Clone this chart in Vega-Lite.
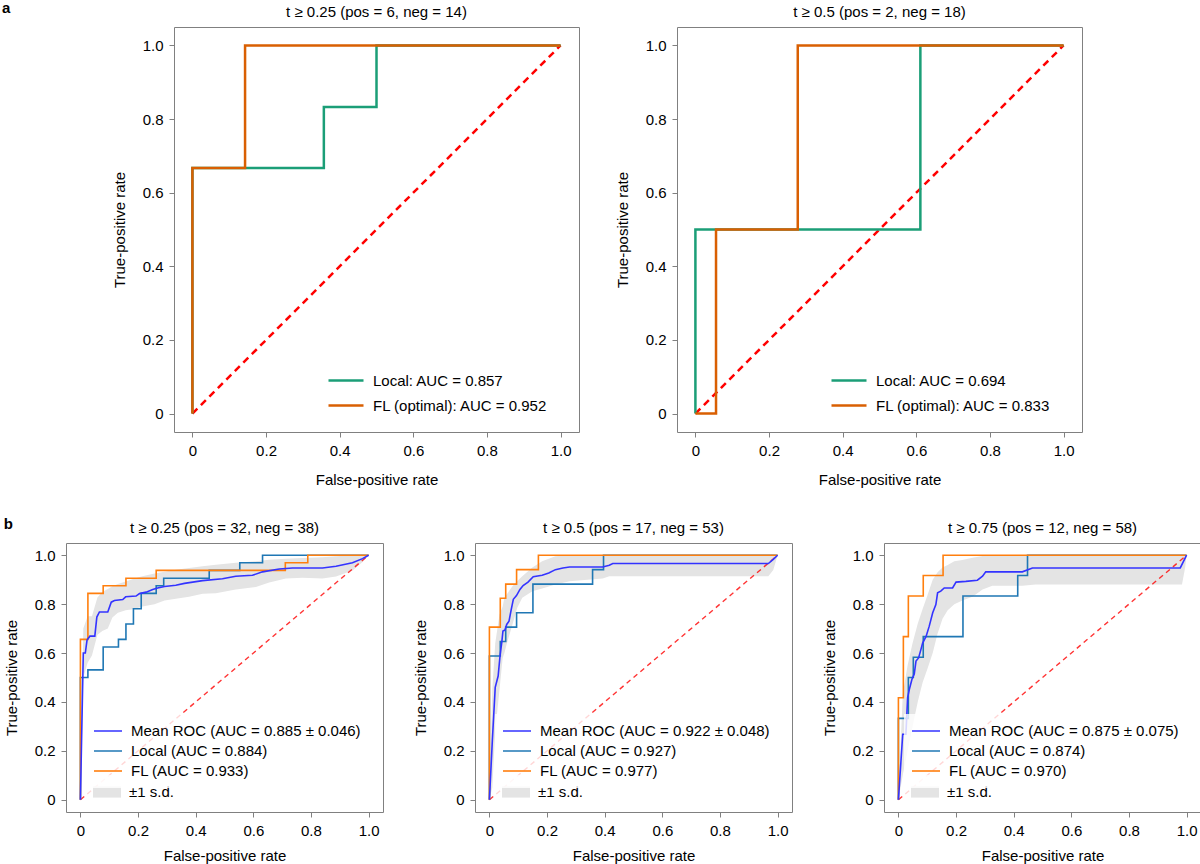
{
  "$schema": "https://vega.github.io/schema/vega-lite/v6.json",
  "padding": {"left": 2, "top": 0, "right": 0, "bottom": 0},
  "datasets": {
    "diag": [{"fpr": 0, "tpr": 0}, {"fpr": 1, "tpr": 1}],
    "a1_roc": [
      {"series": "Local: AUC = 0.857", "fpr": 0, "tpr": 0},
      {"series": "Local: AUC = 0.857", "fpr": 0, "tpr": 0.667},
      {"series": "Local: AUC = 0.857", "fpr": 0.357, "tpr": 0.667},
      {"series": "Local: AUC = 0.857", "fpr": 0.357, "tpr": 0.833},
      {"series": "Local: AUC = 0.857", "fpr": 0.5, "tpr": 0.833},
      {"series": "Local: AUC = 0.857", "fpr": 0.5, "tpr": 1},
      {"series": "Local: AUC = 0.857", "fpr": 1, "tpr": 1},
      {"series": "FL (optimal): AUC = 0.952", "fpr": 0, "tpr": 0},
      {"series": "FL (optimal): AUC = 0.952", "fpr": 0, "tpr": 0.667},
      {"series": "FL (optimal): AUC = 0.952", "fpr": 0.143, "tpr": 0.667},
      {"series": "FL (optimal): AUC = 0.952", "fpr": 0.143, "tpr": 1},
      {"series": "FL (optimal): AUC = 0.952", "fpr": 1, "tpr": 1}
    ],
    "a2_roc": [
      {"series": "Local: AUC = 0.694", "fpr": 0, "tpr": 0},
      {"series": "Local: AUC = 0.694", "fpr": 0, "tpr": 0.5},
      {"series": "Local: AUC = 0.694", "fpr": 0.611, "tpr": 0.5},
      {"series": "Local: AUC = 0.694", "fpr": 0.611, "tpr": 1},
      {"series": "Local: AUC = 0.694", "fpr": 1, "tpr": 1},
      {"series": "FL (optimal): AUC = 0.833", "fpr": 0, "tpr": 0},
      {"series": "FL (optimal): AUC = 0.833", "fpr": 0.056, "tpr": 0},
      {"series": "FL (optimal): AUC = 0.833", "fpr": 0.056, "tpr": 0.5},
      {"series": "FL (optimal): AUC = 0.833", "fpr": 0.278, "tpr": 0.5},
      {"series": "FL (optimal): AUC = 0.833", "fpr": 0.278, "tpr": 1},
      {"series": "FL (optimal): AUC = 0.833", "fpr": 1, "tpr": 1}
    ],
    "b1_roc": [
      {"series": "Local (AUC = 0.884)", "fpr": 0, "tpr": 0},
      {"series": "Local (AUC = 0.884)", "fpr": 0, "tpr": 0.5},
      {"series": "Local (AUC = 0.884)", "fpr": 0.026, "tpr": 0.5},
      {"series": "Local (AUC = 0.884)", "fpr": 0.026, "tpr": 0.531},
      {"series": "Local (AUC = 0.884)", "fpr": 0.079, "tpr": 0.531},
      {"series": "Local (AUC = 0.884)", "fpr": 0.079, "tpr": 0.625},
      {"series": "Local (AUC = 0.884)", "fpr": 0.132, "tpr": 0.625},
      {"series": "Local (AUC = 0.884)", "fpr": 0.132, "tpr": 0.656},
      {"series": "Local (AUC = 0.884)", "fpr": 0.158, "tpr": 0.656},
      {"series": "Local (AUC = 0.884)", "fpr": 0.158, "tpr": 0.719},
      {"series": "Local (AUC = 0.884)", "fpr": 0.184, "tpr": 0.719},
      {"series": "Local (AUC = 0.884)", "fpr": 0.184, "tpr": 0.781},
      {"series": "Local (AUC = 0.884)", "fpr": 0.211, "tpr": 0.781},
      {"series": "Local (AUC = 0.884)", "fpr": 0.211, "tpr": 0.844},
      {"series": "Local (AUC = 0.884)", "fpr": 0.263, "tpr": 0.844},
      {"series": "Local (AUC = 0.884)", "fpr": 0.263, "tpr": 0.875},
      {"series": "Local (AUC = 0.884)", "fpr": 0.289, "tpr": 0.875},
      {"series": "Local (AUC = 0.884)", "fpr": 0.289, "tpr": 0.906},
      {"series": "Local (AUC = 0.884)", "fpr": 0.447, "tpr": 0.906},
      {"series": "Local (AUC = 0.884)", "fpr": 0.447, "tpr": 0.938},
      {"series": "Local (AUC = 0.884)", "fpr": 0.553, "tpr": 0.938},
      {"series": "Local (AUC = 0.884)", "fpr": 0.553, "tpr": 0.969},
      {"series": "Local (AUC = 0.884)", "fpr": 0.632, "tpr": 0.969},
      {"series": "Local (AUC = 0.884)", "fpr": 0.632, "tpr": 1},
      {"series": "Local (AUC = 0.884)", "fpr": 1, "tpr": 1},
      {"series": "FL (AUC = 0.933)", "fpr": 0, "tpr": 0},
      {"series": "FL (AUC = 0.933)", "fpr": 0, "tpr": 0.656},
      {"series": "FL (AUC = 0.933)", "fpr": 0.026, "tpr": 0.656},
      {"series": "FL (AUC = 0.933)", "fpr": 0.026, "tpr": 0.844},
      {"series": "FL (AUC = 0.933)", "fpr": 0.079, "tpr": 0.844},
      {"series": "FL (AUC = 0.933)", "fpr": 0.079, "tpr": 0.875},
      {"series": "FL (AUC = 0.933)", "fpr": 0.158, "tpr": 0.875},
      {"series": "FL (AUC = 0.933)", "fpr": 0.158, "tpr": 0.906},
      {"series": "FL (AUC = 0.933)", "fpr": 0.263, "tpr": 0.906},
      {"series": "FL (AUC = 0.933)", "fpr": 0.263, "tpr": 0.938},
      {"series": "FL (AUC = 0.933)", "fpr": 0.711, "tpr": 0.938},
      {"series": "FL (AUC = 0.933)", "fpr": 0.711, "tpr": 0.969},
      {"series": "FL (AUC = 0.933)", "fpr": 0.789, "tpr": 0.969},
      {"series": "FL (AUC = 0.933)", "fpr": 0.789, "tpr": 1},
      {"series": "FL (AUC = 0.933)", "fpr": 1, "tpr": 1},
      {"series": "Mean ROC (AUC = 0.885 ± 0.046)", "fpr": 0, "tpr": 0},
      {"series": "Mean ROC (AUC = 0.885 ± 0.046)", "fpr": 0.01, "tpr": 0.6},
      {"series": "Mean ROC (AUC = 0.885 ± 0.046)", "fpr": 0.017, "tpr": 0.6},
      {"series": "Mean ROC (AUC = 0.885 ± 0.046)", "fpr": 0.023, "tpr": 0.653},
      {"series": "Mean ROC (AUC = 0.885 ± 0.046)", "fpr": 0.033, "tpr": 0.669},
      {"series": "Mean ROC (AUC = 0.885 ± 0.046)", "fpr": 0.05, "tpr": 0.669},
      {"series": "Mean ROC (AUC = 0.885 ± 0.046)", "fpr": 0.057, "tpr": 0.747},
      {"series": "Mean ROC (AUC = 0.885 ± 0.046)", "fpr": 0.066, "tpr": 0.768},
      {"series": "Mean ROC (AUC = 0.885 ± 0.046)", "fpr": 0.095, "tpr": 0.768},
      {"series": "Mean ROC (AUC = 0.885 ± 0.046)", "fpr": 0.107, "tpr": 0.808},
      {"series": "Mean ROC (AUC = 0.885 ± 0.046)", "fpr": 0.118, "tpr": 0.815},
      {"series": "Mean ROC (AUC = 0.885 ± 0.046)", "fpr": 0.147, "tpr": 0.819},
      {"series": "Mean ROC (AUC = 0.885 ± 0.046)", "fpr": 0.157, "tpr": 0.83},
      {"series": "Mean ROC (AUC = 0.885 ± 0.046)", "fpr": 0.193, "tpr": 0.833},
      {"series": "Mean ROC (AUC = 0.885 ± 0.046)", "fpr": 0.205, "tpr": 0.843},
      {"series": "Mean ROC (AUC = 0.885 ± 0.046)", "fpr": 0.228, "tpr": 0.849},
      {"series": "Mean ROC (AUC = 0.885 ± 0.046)", "fpr": 0.251, "tpr": 0.86},
      {"series": "Mean ROC (AUC = 0.885 ± 0.046)", "fpr": 0.268, "tpr": 0.866},
      {"series": "Mean ROC (AUC = 0.885 ± 0.046)", "fpr": 0.292, "tpr": 0.872},
      {"series": "Mean ROC (AUC = 0.885 ± 0.046)", "fpr": 0.331, "tpr": 0.877},
      {"series": "Mean ROC (AUC = 0.885 ± 0.046)", "fpr": 0.361, "tpr": 0.885},
      {"series": "Mean ROC (AUC = 0.885 ± 0.046)", "fpr": 0.424, "tpr": 0.896},
      {"series": "Mean ROC (AUC = 0.885 ± 0.046)", "fpr": 0.493, "tpr": 0.904},
      {"series": "Mean ROC (AUC = 0.885 ± 0.046)", "fpr": 0.539, "tpr": 0.914},
      {"series": "Mean ROC (AUC = 0.885 ± 0.046)", "fpr": 0.597, "tpr": 0.918},
      {"series": "Mean ROC (AUC = 0.885 ± 0.046)", "fpr": 0.632, "tpr": 0.932},
      {"series": "Mean ROC (AUC = 0.885 ± 0.046)", "fpr": 0.69, "tpr": 0.944},
      {"series": "Mean ROC (AUC = 0.885 ± 0.046)", "fpr": 0.736, "tpr": 0.948},
      {"series": "Mean ROC (AUC = 0.885 ± 0.046)", "fpr": 0.84, "tpr": 0.948},
      {"series": "Mean ROC (AUC = 0.885 ± 0.046)", "fpr": 0.887, "tpr": 0.955},
      {"series": "Mean ROC (AUC = 0.885 ± 0.046)", "fpr": 0.944, "tpr": 0.969},
      {"series": "Mean ROC (AUC = 0.885 ± 0.046)", "fpr": 0.979, "tpr": 0.986},
      {"series": "Mean ROC (AUC = 0.885 ± 0.046)", "fpr": 1, "tpr": 1}
    ],
    "b1_band": [
      {"fpr": 0, "lower": 0, "upper": 0},
      {"fpr": 0.01, "lower": 0.5, "upper": 0.7},
      {"fpr": 0.025, "lower": 0.56, "upper": 0.75},
      {"fpr": 0.04, "lower": 0.59, "upper": 0.75},
      {"fpr": 0.059, "lower": 0.675, "upper": 0.827},
      {"fpr": 0.076, "lower": 0.69, "upper": 0.85},
      {"fpr": 0.095, "lower": 0.7, "upper": 0.862},
      {"fpr": 0.111, "lower": 0.745, "upper": 0.873},
      {"fpr": 0.13, "lower": 0.765, "upper": 0.882},
      {"fpr": 0.157, "lower": 0.775, "upper": 0.893},
      {"fpr": 0.188, "lower": 0.78, "upper": 0.905},
      {"fpr": 0.215, "lower": 0.79, "upper": 0.914},
      {"fpr": 0.257, "lower": 0.8, "upper": 0.925},
      {"fpr": 0.292, "lower": 0.815, "upper": 0.932},
      {"fpr": 0.331, "lower": 0.822, "upper": 0.941},
      {"fpr": 0.377, "lower": 0.83, "upper": 0.948},
      {"fpr": 0.424, "lower": 0.842, "upper": 0.955},
      {"fpr": 0.47, "lower": 0.845, "upper": 0.961},
      {"fpr": 0.539, "lower": 0.86, "upper": 0.969},
      {"fpr": 0.609, "lower": 0.87, "upper": 0.975},
      {"fpr": 0.655, "lower": 0.888, "upper": 0.982},
      {"fpr": 0.713, "lower": 0.905, "upper": 0.986},
      {"fpr": 0.771, "lower": 0.908, "upper": 0.989},
      {"fpr": 0.84, "lower": 0.905, "upper": 0.992},
      {"fpr": 0.887, "lower": 0.913, "upper": 0.996},
      {"fpr": 0.944, "lower": 0.938, "upper": 1},
      {"fpr": 0.979, "lower": 0.972, "upper": 1},
      {"fpr": 1, "lower": 1, "upper": 1}
    ],
    "b2_roc": [
      {"series": "Local (AUC = 0.927)", "fpr": 0, "tpr": 0},
      {"series": "Local (AUC = 0.927)", "fpr": 0, "tpr": 0.588},
      {"series": "Local (AUC = 0.927)", "fpr": 0.0377, "tpr": 0.588},
      {"series": "Local (AUC = 0.927)", "fpr": 0.0377, "tpr": 0.647},
      {"series": "Local (AUC = 0.927)", "fpr": 0.0566, "tpr": 0.647},
      {"series": "Local (AUC = 0.927)", "fpr": 0.0566, "tpr": 0.706},
      {"series": "Local (AUC = 0.927)", "fpr": 0.0943, "tpr": 0.706},
      {"series": "Local (AUC = 0.927)", "fpr": 0.0943, "tpr": 0.765},
      {"series": "Local (AUC = 0.927)", "fpr": 0.151, "tpr": 0.765},
      {"series": "Local (AUC = 0.927)", "fpr": 0.151, "tpr": 0.882},
      {"series": "Local (AUC = 0.927)", "fpr": 0.358, "tpr": 0.882},
      {"series": "Local (AUC = 0.927)", "fpr": 0.358, "tpr": 0.941},
      {"series": "Local (AUC = 0.927)", "fpr": 0.396, "tpr": 0.941},
      {"series": "Local (AUC = 0.927)", "fpr": 0.396, "tpr": 1},
      {"series": "Local (AUC = 0.927)", "fpr": 1, "tpr": 1},
      {"series": "FL (AUC = 0.977)", "fpr": 0, "tpr": 0},
      {"series": "FL (AUC = 0.977)", "fpr": 0, "tpr": 0.706},
      {"series": "FL (AUC = 0.977)", "fpr": 0.0377, "tpr": 0.706},
      {"series": "FL (AUC = 0.977)", "fpr": 0.0377, "tpr": 0.824},
      {"series": "FL (AUC = 0.977)", "fpr": 0.0566, "tpr": 0.824},
      {"series": "FL (AUC = 0.977)", "fpr": 0.0566, "tpr": 0.882},
      {"series": "FL (AUC = 0.977)", "fpr": 0.0943, "tpr": 0.882},
      {"series": "FL (AUC = 0.977)", "fpr": 0.0943, "tpr": 0.941},
      {"series": "FL (AUC = 0.977)", "fpr": 0.17, "tpr": 0.941},
      {"series": "FL (AUC = 0.977)", "fpr": 0.17, "tpr": 1},
      {"series": "FL (AUC = 0.977)", "fpr": 1, "tpr": 1},
      {"series": "Mean ROC (AUC = 0.922 ± 0.048)", "fpr": 0, "tpr": 0},
      {"series": "Mean ROC (AUC = 0.922 ± 0.048)", "fpr": 0.0101, "tpr": 0.24},
      {"series": "Mean ROC (AUC = 0.922 ± 0.048)", "fpr": 0.0202, "tpr": 0.46},
      {"series": "Mean ROC (AUC = 0.922 ± 0.048)", "fpr": 0.0303, "tpr": 0.506},
      {"series": "Mean ROC (AUC = 0.922 ± 0.048)", "fpr": 0.037, "tpr": 0.59},
      {"series": "Mean ROC (AUC = 0.922 ± 0.048)", "fpr": 0.043, "tpr": 0.645},
      {"series": "Mean ROC (AUC = 0.922 ± 0.048)", "fpr": 0.047, "tpr": 0.69},
      {"series": "Mean ROC (AUC = 0.922 ± 0.048)", "fpr": 0.054, "tpr": 0.694},
      {"series": "Mean ROC (AUC = 0.922 ± 0.048)", "fpr": 0.06, "tpr": 0.717},
      {"series": "Mean ROC (AUC = 0.922 ± 0.048)", "fpr": 0.068, "tpr": 0.73},
      {"series": "Mean ROC (AUC = 0.922 ± 0.048)", "fpr": 0.076, "tpr": 0.78},
      {"series": "Mean ROC (AUC = 0.922 ± 0.048)", "fpr": 0.083, "tpr": 0.82},
      {"series": "Mean ROC (AUC = 0.922 ± 0.048)", "fpr": 0.094, "tpr": 0.835},
      {"series": "Mean ROC (AUC = 0.922 ± 0.048)", "fpr": 0.106, "tpr": 0.86},
      {"series": "Mean ROC (AUC = 0.922 ± 0.048)", "fpr": 0.117, "tpr": 0.876},
      {"series": "Mean ROC (AUC = 0.922 ± 0.048)", "fpr": 0.134, "tpr": 0.89},
      {"series": "Mean ROC (AUC = 0.922 ± 0.048)", "fpr": 0.152, "tpr": 0.912},
      {"series": "Mean ROC (AUC = 0.922 ± 0.048)", "fpr": 0.183, "tpr": 0.918},
      {"series": "Mean ROC (AUC = 0.922 ± 0.048)", "fpr": 0.206, "tpr": 0.927},
      {"series": "Mean ROC (AUC = 0.922 ± 0.048)", "fpr": 0.229, "tpr": 0.941},
      {"series": "Mean ROC (AUC = 0.922 ± 0.048)", "fpr": 0.255, "tpr": 0.948},
      {"series": "Mean ROC (AUC = 0.922 ± 0.048)", "fpr": 0.278, "tpr": 0.952},
      {"series": "Mean ROC (AUC = 0.922 ± 0.048)", "fpr": 0.393, "tpr": 0.952},
      {"series": "Mean ROC (AUC = 0.922 ± 0.048)", "fpr": 0.416, "tpr": 0.959},
      {"series": "Mean ROC (AUC = 0.922 ± 0.048)", "fpr": 0.428, "tpr": 0.966},
      {"series": "Mean ROC (AUC = 0.922 ± 0.048)", "fpr": 0.968, "tpr": 0.966},
      {"series": "Mean ROC (AUC = 0.922 ± 0.048)", "fpr": 0.985, "tpr": 0.983},
      {"series": "Mean ROC (AUC = 0.922 ± 0.048)", "fpr": 1, "tpr": 1}
    ],
    "b2_band": [
      {"fpr": 0, "lower": 0, "upper": 0},
      {"fpr": 0.0101, "lower": 0.05, "upper": 0.45},
      {"fpr": 0.0202, "lower": 0.28, "upper": 0.64},
      {"fpr": 0.035, "lower": 0.45, "upper": 0.758},
      {"fpr": 0.046, "lower": 0.58, "upper": 0.79},
      {"fpr": 0.052, "lower": 0.6, "upper": 0.826},
      {"fpr": 0.063, "lower": 0.649, "upper": 0.845},
      {"fpr": 0.08, "lower": 0.717, "upper": 0.873},
      {"fpr": 0.097, "lower": 0.786, "upper": 0.895},
      {"fpr": 0.114, "lower": 0.826, "upper": 0.914},
      {"fpr": 0.149, "lower": 0.853, "upper": 0.95},
      {"fpr": 0.183, "lower": 0.864, "upper": 0.975},
      {"fpr": 0.229, "lower": 0.88, "upper": 0.996},
      {"fpr": 0.278, "lower": 0.894, "upper": 1},
      {"fpr": 0.393, "lower": 0.905, "upper": 1},
      {"fpr": 0.416, "lower": 0.914, "upper": 1},
      {"fpr": 0.968, "lower": 0.914, "upper": 1},
      {"fpr": 0.985, "lower": 0.94, "upper": 1},
      {"fpr": 1, "lower": 1, "upper": 1}
    ],
    "b3_roc": [
      {"series": "Local (AUC = 0.874)", "fpr": 0, "tpr": 0},
      {"series": "Local (AUC = 0.874)", "fpr": 0, "tpr": 0.333},
      {"series": "Local (AUC = 0.874)", "fpr": 0.0345, "tpr": 0.333},
      {"series": "Local (AUC = 0.874)", "fpr": 0.0345, "tpr": 0.5},
      {"series": "Local (AUC = 0.874)", "fpr": 0.0517, "tpr": 0.5},
      {"series": "Local (AUC = 0.874)", "fpr": 0.0517, "tpr": 0.583},
      {"series": "Local (AUC = 0.874)", "fpr": 0.0862, "tpr": 0.583},
      {"series": "Local (AUC = 0.874)", "fpr": 0.0862, "tpr": 0.667},
      {"series": "Local (AUC = 0.874)", "fpr": 0.224, "tpr": 0.667},
      {"series": "Local (AUC = 0.874)", "fpr": 0.224, "tpr": 0.833},
      {"series": "Local (AUC = 0.874)", "fpr": 0.414, "tpr": 0.833},
      {"series": "Local (AUC = 0.874)", "fpr": 0.414, "tpr": 0.917},
      {"series": "Local (AUC = 0.874)", "fpr": 0.448, "tpr": 0.917},
      {"series": "Local (AUC = 0.874)", "fpr": 0.448, "tpr": 1},
      {"series": "Local (AUC = 0.874)", "fpr": 1, "tpr": 1},
      {"series": "FL (AUC = 0.970)", "fpr": 0, "tpr": 0},
      {"series": "FL (AUC = 0.970)", "fpr": 0, "tpr": 0.417},
      {"series": "FL (AUC = 0.970)", "fpr": 0.0172, "tpr": 0.417},
      {"series": "FL (AUC = 0.970)", "fpr": 0.0172, "tpr": 0.667},
      {"series": "FL (AUC = 0.970)", "fpr": 0.0345, "tpr": 0.667},
      {"series": "FL (AUC = 0.970)", "fpr": 0.0345, "tpr": 0.833},
      {"series": "FL (AUC = 0.970)", "fpr": 0.0862, "tpr": 0.833},
      {"series": "FL (AUC = 0.970)", "fpr": 0.0862, "tpr": 0.917},
      {"series": "FL (AUC = 0.970)", "fpr": 0.155, "tpr": 0.917},
      {"series": "FL (AUC = 0.970)", "fpr": 0.155, "tpr": 1},
      {"series": "FL (AUC = 0.970)", "fpr": 1, "tpr": 1},
      {"series": "Mean ROC (AUC = 0.875 ± 0.075)", "fpr": 0, "tpr": 0},
      {"series": "Mean ROC (AUC = 0.875 ± 0.075)", "fpr": 0.015, "tpr": 0.268},
      {"series": "Mean ROC (AUC = 0.875 ± 0.075)", "fpr": 0.026, "tpr": 0.268},
      {"series": "Mean ROC (AUC = 0.875 ± 0.075)", "fpr": 0.032, "tpr": 0.418},
      {"series": "Mean ROC (AUC = 0.875 ± 0.075)", "fpr": 0.038, "tpr": 0.452},
      {"series": "Mean ROC (AUC = 0.875 ± 0.075)", "fpr": 0.047, "tpr": 0.493},
      {"series": "Mean ROC (AUC = 0.875 ± 0.075)", "fpr": 0.055, "tpr": 0.514},
      {"series": "Mean ROC (AUC = 0.875 ± 0.075)", "fpr": 0.061, "tpr": 0.567},
      {"series": "Mean ROC (AUC = 0.875 ± 0.075)", "fpr": 0.07, "tpr": 0.58},
      {"series": "Mean ROC (AUC = 0.875 ± 0.075)", "fpr": 0.078, "tpr": 0.614},
      {"series": "Mean ROC (AUC = 0.875 ± 0.075)", "fpr": 0.084, "tpr": 0.641},
      {"series": "Mean ROC (AUC = 0.875 ± 0.075)", "fpr": 0.096, "tpr": 0.668},
      {"series": "Mean ROC (AUC = 0.875 ± 0.075)", "fpr": 0.107, "tpr": 0.71},
      {"series": "Mean ROC (AUC = 0.875 ± 0.075)", "fpr": 0.119, "tpr": 0.765},
      {"series": "Mean ROC (AUC = 0.875 ± 0.075)", "fpr": 0.13, "tpr": 0.798},
      {"series": "Mean ROC (AUC = 0.875 ± 0.075)", "fpr": 0.136, "tpr": 0.846},
      {"series": "Mean ROC (AUC = 0.875 ± 0.075)", "fpr": 0.147, "tpr": 0.853},
      {"series": "Mean ROC (AUC = 0.875 ± 0.075)", "fpr": 0.159, "tpr": 0.866},
      {"series": "Mean ROC (AUC = 0.875 ± 0.075)", "fpr": 0.188, "tpr": 0.866},
      {"series": "Mean ROC (AUC = 0.875 ± 0.075)", "fpr": 0.2, "tpr": 0.89},
      {"series": "Mean ROC (AUC = 0.875 ± 0.075)", "fpr": 0.234, "tpr": 0.893},
      {"series": "Mean ROC (AUC = 0.875 ± 0.075)", "fpr": 0.274, "tpr": 0.898},
      {"series": "Mean ROC (AUC = 0.875 ± 0.075)", "fpr": 0.292, "tpr": 0.914},
      {"series": "Mean ROC (AUC = 0.875 ± 0.075)", "fpr": 0.303, "tpr": 0.932},
      {"series": "Mean ROC (AUC = 0.875 ± 0.075)", "fpr": 0.43, "tpr": 0.932},
      {"series": "Mean ROC (AUC = 0.875 ± 0.075)", "fpr": 0.465, "tpr": 0.948},
      {"series": "Mean ROC (AUC = 0.875 ± 0.075)", "fpr": 0.978, "tpr": 0.948},
      {"series": "Mean ROC (AUC = 0.875 ± 0.075)", "fpr": 1, "tpr": 1}
    ],
    "b3_band": [
      {"fpr": 0, "lower": 0, "upper": 0},
      {"fpr": 0.015, "lower": 0.1, "upper": 0.43},
      {"fpr": 0.032, "lower": 0.2, "upper": 0.55},
      {"fpr": 0.049, "lower": 0.3, "upper": 0.64},
      {"fpr": 0.067, "lower": 0.4, "upper": 0.72},
      {"fpr": 0.084, "lower": 0.48, "upper": 0.78},
      {"fpr": 0.102, "lower": 0.54, "upper": 0.84},
      {"fpr": 0.119, "lower": 0.6, "upper": 0.9},
      {"fpr": 0.136, "lower": 0.68, "upper": 0.93},
      {"fpr": 0.153, "lower": 0.74, "upper": 0.95},
      {"fpr": 0.171, "lower": 0.775, "upper": 0.96},
      {"fpr": 0.194, "lower": 0.8, "upper": 0.975},
      {"fpr": 0.222, "lower": 0.815, "upper": 0.98},
      {"fpr": 0.257, "lower": 0.83, "upper": 0.99},
      {"fpr": 0.292, "lower": 0.86, "upper": 0.997},
      {"fpr": 0.326, "lower": 0.875, "upper": 1},
      {"fpr": 0.43, "lower": 0.875, "upper": 1},
      {"fpr": 0.476, "lower": 0.88, "upper": 1},
      {"fpr": 0.984, "lower": 0.88, "upper": 1},
      {"fpr": 0.995, "lower": 0.95, "upper": 1},
      {"fpr": 1, "lower": 1, "upper": 1}
    ]
  },
  "vconcat": [
    {
      "title": {"text": "a", "anchor": "start", "fontWeight": "bold", "offset": -11, "dx": -64},
      "spacing": 98,
      "bounds": "flush",
      "resolve": {"scale": {"color": "independent", "x": "independent", "y": "independent"}, "legend": {"color": "independent"}},
      "hconcat": [
        {"width": 10, "height": 405, "view": {"stroke": null}, "data": {"values": []}, "mark": "point", "encoding": {}},
        {
          "width": 405, "height": 405,
          "title": "t ≥ 0.25 (pos = 6, neg = 14)",
          "encoding": {
            "x": {"field": "fpr", "type": "quantitative", "title": "False-positive rate", "scale": {"domain": [-0.05, 1.05], "nice": false, "zero": false}, "axis": {"values": [0, 0.2, 0.4, 0.6, 0.8, 1], "labelExpr": "datum.value === 0 ? '0' : format(datum.value, '.1f')"}},
            "y": {"field": "tpr", "type": "quantitative", "title": "True-positive rate", "scale": {"domain": [-0.05, 1.05], "nice": false, "zero": false}, "axis": {"values": [0, 0.2, 0.4, 0.6, 0.8, 1], "labelExpr": "datum.value === 0 ? '0' : format(datum.value, '.1f')"}}
          },
          "layer": [
            {"data": {"name": "diag"}, "mark": {"type": "line", "color": "#ff0000", "strokeWidth": 2.5, "strokeDash": [7, 5]}, "encoding": {}},
            {"data": {"name": "a1_roc"}, "mark": {"type": "line", "strokeWidth": 2.5},
             "encoding": {
               "color": {"field": "series", "type": "nominal", "scale": {"domain": ["Local: AUC = 0.857", "FL (optimal): AUC = 0.952"], "range": ["#1b9e77", "#d95f02"]},
                 "legend": {"orient": "none", "legendX": 153, "legendY": 341, "title": null, "symbolType": "stroke", "symbolSize": 1225, "symbolStrokeWidth": 2.5, "labelOffset": 8, "clipHeight": 25, "rowPadding": 0, "labelLimit": 400, "padding": 0}},
               "order": {"value": null}
             }}
          ]
        },
        {
          "width": 405, "height": 405,
          "title": "t ≥ 0.5 (pos = 2, neg = 18)",
          "encoding": {
            "x": {"field": "fpr", "type": "quantitative", "title": "False-positive rate", "scale": {"domain": [-0.05, 1.05], "nice": false, "zero": false}, "axis": {"values": [0, 0.2, 0.4, 0.6, 0.8, 1], "labelExpr": "datum.value === 0 ? '0' : format(datum.value, '.1f')"}},
            "y": {"field": "tpr", "type": "quantitative", "title": "True-positive rate", "scale": {"domain": [-0.05, 1.05], "nice": false, "zero": false}, "axis": {"values": [0, 0.2, 0.4, 0.6, 0.8, 1], "labelExpr": "datum.value === 0 ? '0' : format(datum.value, '.1f')"}}
          },
          "layer": [
            {"data": {"name": "diag"}, "mark": {"type": "line", "color": "#ff0000", "strokeWidth": 2.5, "strokeDash": [7, 5]}, "encoding": {}},
            {"data": {"name": "a2_roc"}, "mark": {"type": "line", "strokeWidth": 2.5},
             "encoding": {
               "color": {"field": "series", "type": "nominal", "scale": {"domain": ["Local: AUC = 0.694", "FL (optimal): AUC = 0.833"], "range": ["#1b9e77", "#d95f02"]},
                 "legend": {"orient": "none", "legendX": 153, "legendY": 341, "title": null, "symbolType": "stroke", "symbolSize": 1225, "symbolStrokeWidth": 2.5, "labelOffset": 8, "clipHeight": 25, "rowPadding": 0, "labelLimit": 400, "padding": 0}},
               "order": {"value": null}
             }}
          ]
        }
      ]
    },
    {
      "title": {"text": "b", "anchor": "start", "fontWeight": "bold", "offset": -11},
      "spacing": 92,
      "bounds": "flush",
      "resolve": {"scale": {"color": "independent", "fill": "independent", "x": "independent", "y": "independent"}, "legend": {"color": "independent", "fill": "independent"}},
      "hconcat": [
        {
          "width": 317, "height": 269,
          "title": "t ≥ 0.25 (pos = 32, neg = 38)",
          "encoding": {
            "x": {"field": "fpr", "type": "quantitative", "title": "False-positive rate", "scale": {"domain": [-0.05, 1.05], "nice": false, "zero": false}, "axis": {"values": [0, 0.2, 0.4, 0.6, 0.8, 1], "titlePadding": 10, "labelExpr": "datum.value === 0 ? '0' : format(datum.value, '.1f')"}},
            "y": {"field": "tpr", "type": "quantitative", "title": "True-positive rate", "scale": {"domain": [-0.05, 1.05], "nice": false, "zero": false}, "axis": {"values": [0, 0.2, 0.4, 0.6, 0.8, 1], "labelExpr": "datum.value === 0 ? '0' : format(datum.value, '.1f')"}}
          },
          "layer": [
            {"data": {"name": "b1_band"}, "mark": {"type": "area", "opacity": 1},
             "encoding": {"y": {"field": "lower", "type": "quantitative", "title": "True-positive rate", "scale": {"domain": [-0.05, 1.05], "nice": false, "zero": false}}, "y2": {"field": "upper"},
               "fill": {"datum": "±1 s.d.", "type": "nominal", "scale": {"domain": ["±1 s.d."], "range": ["#e4e4e4"]},
                 "legend": {"orient": "none", "legendX": 20, "legendY": 232, "title": null, "symbolType": "M-1,-0.4H1V0.4H-1Z", "symbolSize": 784, "symbolStrokeWidth": 0, "labelOffset": 8, "clipHeight": 20, "labelLimit": 400, "padding": 7, "fillColor": "rgba(255,255,255,0.8)"}}}},
            {"data": {"name": "diag"}, "mark": {"type": "line", "color": "#ff0000", "opacity": 0.8, "strokeWidth": 1.4, "strokeDash": [5, 4]}, "encoding": {}},
            {"data": {"name": "b1_roc"}, "mark": {"type": "line", "strokeWidth": 1.6},
             "encoding": {
               "color": {"field": "series", "type": "nominal",
                 "scale": {"domain": ["Mean ROC (AUC = 0.885 ± 0.046)", "Local (AUC = 0.884)", "FL (AUC = 0.933)"], "range": ["#3333ff", "#1f77b4", "#ff7f0e"]},
                 "legend": {"orient": "none", "legendX": 20, "legendY": 171, "title": null, "symbolType": "stroke", "symbolSize": 784, "symbolStrokeWidth": 1.6, "labelOffset": 8, "clipHeight": 20, "rowPadding": 0, "labelLimit": 400, "padding": 7, "fillColor": "rgba(255,255,255,0.8)"}},
               "order": {"value": null}
             }}
          ]
        },
        {
          "width": 317, "height": 269,
          "title": "t ≥ 0.5 (pos = 17, neg = 53)",
          "encoding": {
            "x": {"field": "fpr", "type": "quantitative", "title": "False-positive rate", "scale": {"domain": [-0.05, 1.05], "nice": false, "zero": false}, "axis": {"values": [0, 0.2, 0.4, 0.6, 0.8, 1], "titlePadding": 10, "labelExpr": "datum.value === 0 ? '0' : format(datum.value, '.1f')"}},
            "y": {"field": "tpr", "type": "quantitative", "title": "True-positive rate", "scale": {"domain": [-0.05, 1.05], "nice": false, "zero": false}, "axis": {"values": [0, 0.2, 0.4, 0.6, 0.8, 1], "labelExpr": "datum.value === 0 ? '0' : format(datum.value, '.1f')"}}
          },
          "layer": [
            {"data": {"name": "b2_band"}, "mark": {"type": "area", "opacity": 1},
             "encoding": {"y": {"field": "lower", "type": "quantitative", "title": "True-positive rate", "scale": {"domain": [-0.05, 1.05], "nice": false, "zero": false}}, "y2": {"field": "upper"},
               "fill": {"datum": "±1 s.d.", "type": "nominal", "scale": {"domain": ["±1 s.d."], "range": ["#e4e4e4"]},
                 "legend": {"orient": "none", "legendX": 20, "legendY": 232, "title": null, "symbolType": "M-1,-0.4H1V0.4H-1Z", "symbolSize": 784, "symbolStrokeWidth": 0, "labelOffset": 8, "clipHeight": 20, "labelLimit": 400, "padding": 7, "fillColor": "rgba(255,255,255,0.8)"}}}},
            {"data": {"name": "diag"}, "mark": {"type": "line", "color": "#ff0000", "opacity": 0.8, "strokeWidth": 1.4, "strokeDash": [5, 4]}, "encoding": {}},
            {"data": {"name": "b2_roc"}, "mark": {"type": "line", "strokeWidth": 1.6},
             "encoding": {
               "color": {"field": "series", "type": "nominal",
                 "scale": {"domain": ["Mean ROC (AUC = 0.922 ± 0.048)", "Local (AUC = 0.927)", "FL (AUC = 0.977)"], "range": ["#3333ff", "#1f77b4", "#ff7f0e"]},
                 "legend": {"orient": "none", "legendX": 20, "legendY": 171, "title": null, "symbolType": "stroke", "symbolSize": 784, "symbolStrokeWidth": 1.6, "labelOffset": 8, "clipHeight": 20, "rowPadding": 0, "labelLimit": 400, "padding": 7, "fillColor": "rgba(255,255,255,0.8)"}},
               "order": {"value": null}
             }}
          ]
        },
        {
          "width": 317, "height": 269,
          "title": "t ≥ 0.75 (pos = 12, neg = 58)",
          "encoding": {
            "x": {"field": "fpr", "type": "quantitative", "title": "False-positive rate", "scale": {"domain": [-0.05, 1.05], "nice": false, "zero": false}, "axis": {"values": [0, 0.2, 0.4, 0.6, 0.8, 1], "titlePadding": 10, "labelExpr": "datum.value === 0 ? '0' : format(datum.value, '.1f')"}},
            "y": {"field": "tpr", "type": "quantitative", "title": "True-positive rate", "scale": {"domain": [-0.05, 1.05], "nice": false, "zero": false}, "axis": {"values": [0, 0.2, 0.4, 0.6, 0.8, 1], "labelExpr": "datum.value === 0 ? '0' : format(datum.value, '.1f')"}}
          },
          "layer": [
            {"data": {"name": "b3_band"}, "mark": {"type": "area", "opacity": 1},
             "encoding": {"y": {"field": "lower", "type": "quantitative", "title": "True-positive rate", "scale": {"domain": [-0.05, 1.05], "nice": false, "zero": false}}, "y2": {"field": "upper"},
               "fill": {"datum": "±1 s.d.", "type": "nominal", "scale": {"domain": ["±1 s.d."], "range": ["#e4e4e4"]},
                 "legend": {"orient": "none", "legendX": 20, "legendY": 232, "title": null, "symbolType": "M-1,-0.4H1V0.4H-1Z", "symbolSize": 784, "symbolStrokeWidth": 0, "labelOffset": 8, "clipHeight": 20, "labelLimit": 400, "padding": 7, "fillColor": "rgba(255,255,255,0.8)"}}}},
            {"data": {"name": "diag"}, "mark": {"type": "line", "color": "#ff0000", "opacity": 0.8, "strokeWidth": 1.4, "strokeDash": [5, 4]}, "encoding": {}},
            {"data": {"name": "b3_roc"}, "mark": {"type": "line", "strokeWidth": 1.6},
             "encoding": {
               "color": {"field": "series", "type": "nominal",
                 "scale": {"domain": ["Mean ROC (AUC = 0.875 ± 0.075)", "Local (AUC = 0.874)", "FL (AUC = 0.970)"], "range": ["#3333ff", "#1f77b4", "#ff7f0e"]},
                 "legend": {"orient": "none", "legendX": 20, "legendY": 171, "title": null, "symbolType": "stroke", "symbolSize": 784, "symbolStrokeWidth": 1.6, "labelOffset": 8, "clipHeight": 20, "rowPadding": 0, "labelLimit": 400, "padding": 7, "fillColor": "rgba(255,255,255,0.8)"}},
               "order": {"value": null}
             }}
          ]
        }
      ]
    }
  ],
  "spacing": 28,
  "resolve": {"scale": {"color": "independent", "fill": "independent", "x": "independent", "y": "independent"}, "legend": {"color": "independent", "fill": "independent"}},
  "config": {
    "font": "Liberation Sans",
    "view": {"stroke": "#808080", "strokeWidth": 1},
    "title": {"font": "Liberation Sans", "fontSize": 15, "fontWeight": "normal", "color": "black", "offset": 7},
    "axis": {"domain": false, "grid": false, "tickColor": "#808080", "tickSize": 5, "labelFont": "Liberation Sans", "labelFontSize": 15, "labelColor": "black", "labelPadding": 6, "labelFlush": false, "titleFont": "Liberation Sans", "titleFontSize": 15, "titleFontWeight": "normal", "titleColor": "black"},
    "axisX": {"titlePadding": 14},
    "axisY": {"titlePadding": 15},
    "legend": {"labelFont": "Liberation Sans", "labelFontSize": 15, "labelColor": "black"}
  }
}
